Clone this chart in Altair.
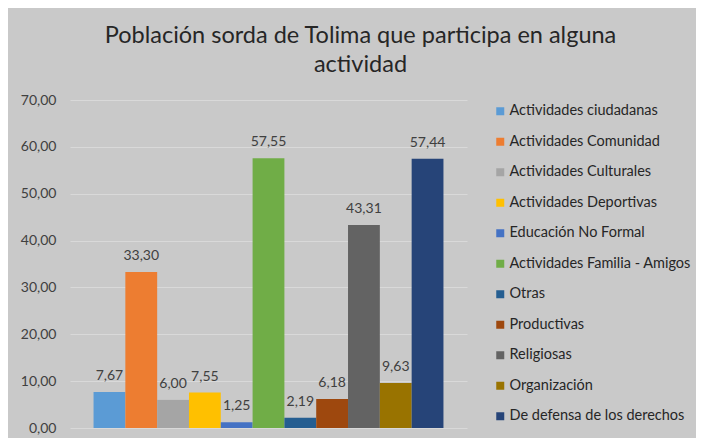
import altair as alt
import pandas as pd

categories = [
    "Actividades ciudadanas",
    "Actividades Comunidad",
    "Actividades Culturales",
    "Actividades Deportivas",
    "Educación No Formal",
    "Actividades Familia - Amigos",
    "Otras",
    "Productivas",
    "Religiosas",
    "Organización",
    "De defensa de los derechos",
]
values = [7.67, 33.30, 6.00, 7.55, 1.25, 57.55, 2.19, 6.18, 43.31, 9.63, 57.44]
colors = ["#5B9BD5", "#ED7D31", "#A5A5A5", "#FFC000", "#4472C4", "#70AD47",
          "#255E91", "#9E480E", "#636363", "#997300", "#264478"]

df = pd.DataFrame({
    "cat": categories,
    "val": values,
    "label": [f"{v:.2f}".replace(".", ",") for v in values],
})

FONT = "Lato"

x = alt.X("cat:N", sort=categories, axis=None,
          scale=alt.Scale(paddingInner=0, paddingOuter=0.74))
y = alt.Y("val:Q",
          scale=alt.Scale(domain=[0, 70], nice=False),
          axis=alt.Axis(values=[0, 10, 20, 30, 40, 50, 60, 70], title=None,
                        labelExpr="replace(format(datum.value, '.2f'), '.', ',')",
                        domain=False, ticks=False, labelPadding=14,
                        labelFontSize=14, labelColor="#404040", labelFont=FONT,
                        gridColor="#d9d9d9", gridWidth=1))

bars = alt.Chart(df).mark_bar().encode(
    x=x, y=y,
    color=alt.Color("cat:N", sort=categories,
                    scale=alt.Scale(domain=categories, range=colors),
                    legend=alt.Legend(title=None, orient="none", legendX=423, legendY=4,
                                      symbolType="square", symbolSize=64,
                                      symbolStrokeWidth=0,
                                      labelFontSize=14.5, labelFont=FONT,
                                      labelColor="#262626", rowPadding=15.5,
                                      labelLimit=300, labelOffset=2)),
)

text = alt.Chart(df).mark_text(baseline="bottom", dy=-9, fontSize=14, font=FONT,
                               color="#404040").encode(
    x=x, y="val:Q", text="label:N")

chart = (bars + text).properties(
    width=397, height=328,
    title=alt.TitleParams(
        text=["Población sorda de Tolima que participa en alguna", "actividad"],
        fontSize=23.5, font=FONT, fontWeight="normal", color="#262626",
        anchor="middle", dx=92, offset=17, lineHeight=29),
    autosize=alt.AutoSizeParams(type="none"),
    padding={"left": 62, "top": 92, "right": 229, "bottom": 10},
    background="#c9c9c9",
).configure_view(stroke=None)

chart.save("out.html", embed_options={"renderer": "svg", "actions": False})
